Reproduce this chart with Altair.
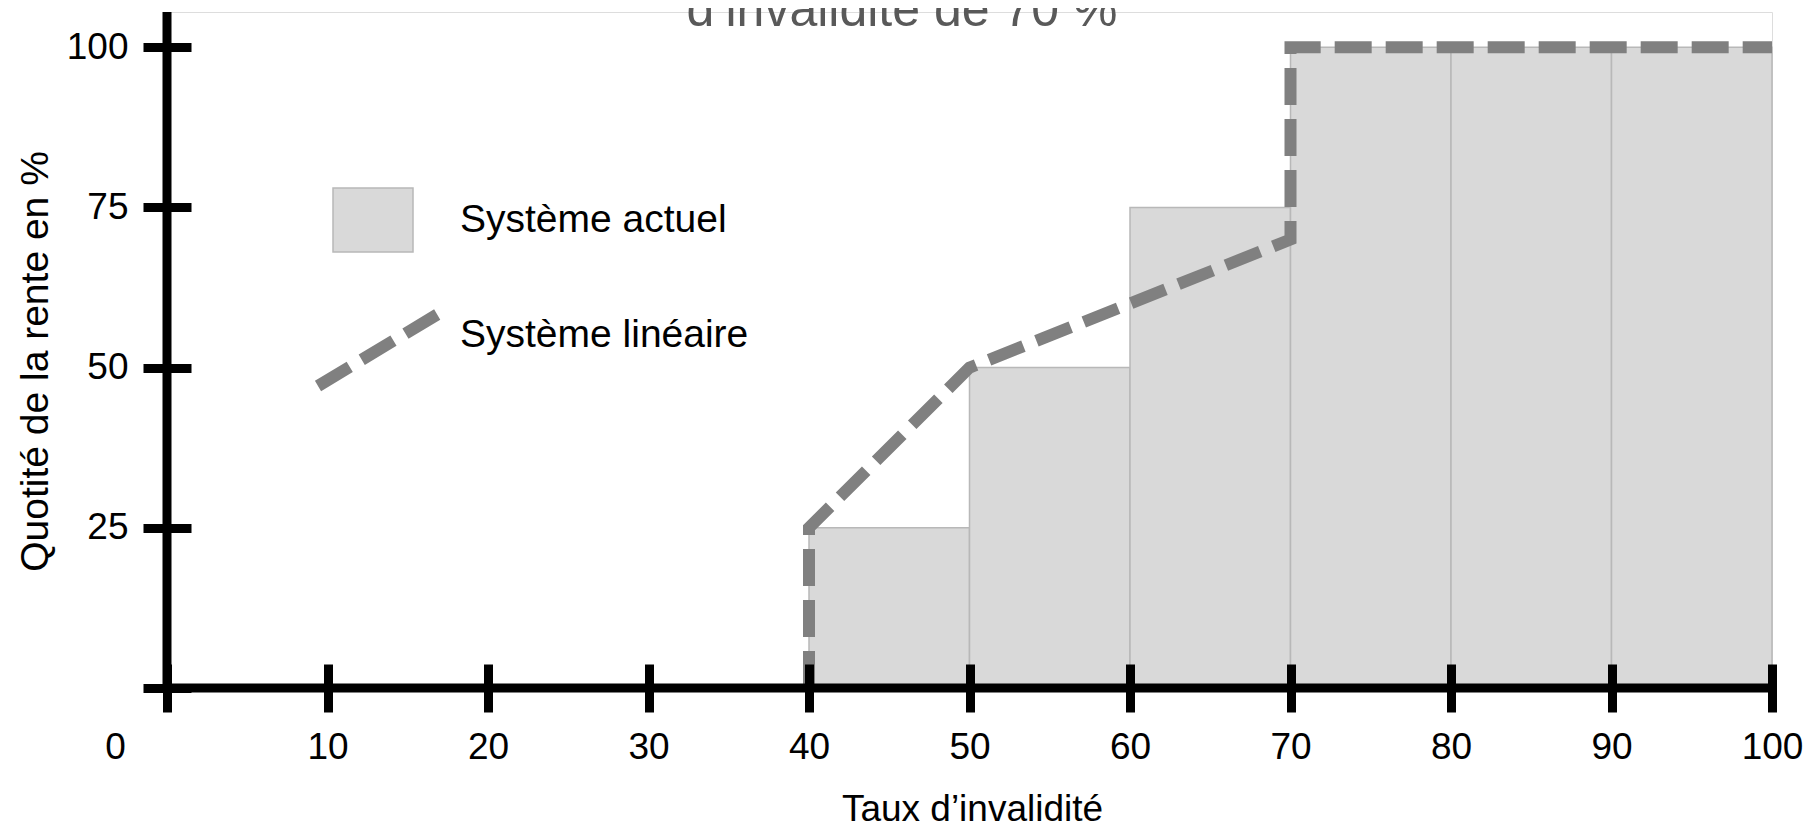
import altair as alt
import pandas as pd

# ---- data ----
bin_start = [40, 50, 60, 70, 80, 90]
bin_end = [50, 60, 70, 80, 90, 100]
quotite_actuelle = [25, 50, 75, 100, 100, 100]

lin_taux = [40, 40, 50, 70, 70, 100]
lin_quotite = [0, 25, 50, 70, 100, 100]

x_ticks = [0, 10, 20, 30, 40, 50, 60, 70, 80, 90, 100]
y_ticks = [0, 25, 50, 75, 100]

serie_actuel = "Système actuel"
serie_lineaire = "Système linéaire"
titre = "d’invalidité de 70 %"
titre_x = "Taux d’invalidité"
titre_y = "Quotité de la rente en %"

FONT = "Liberation Sans"

bars_df = pd.DataFrame({
    "debut": bin_start,
    "fin": bin_end,
    "quotite": quotite_actuelle,
    "serie": [serie_actuel] * len(bin_start),
})
line_df = pd.DataFrame({
    "ordre": list(range(len(lin_taux))),
    "taux": lin_taux,
    "quotite": lin_quotite,
    "serie": [serie_lineaire] * len(lin_taux),
})
origin_df = pd.DataFrame({"v": [0]})

x_scale = alt.Scale(domain=[0, 100], nice=False)
y_scale = alt.Scale(domain=[0, 105.5], nice=False)

x_axis = alt.Axis(
    values=x_ticks, title=titre_x, offset=-24, tickSize=48, tickWidth=9,
    tickColor="black", domain=False, grid=False,
    labelFont=FONT, labelFontSize=37, labelColor="black", labelPadding=17,
    labelFlush=False, labelOverlap=False,
    labelOffset={"condition": {"test": "datum.value == 0", "value": -52}, "value": 0},
    titleFont=FONT, titleFontSize=37, titleFontWeight="normal", titleColor="black",
    titleX=805, titleY=156, titleBaseline="alphabetic", titleAlign="center",
    zindex=2,
)
y_axis = alt.Axis(
    values=y_ticks, title=titre_y, offset=-24, tickSize=48, tickWidth=9,
    tickColor="black", domain=False, grid=False,
    labelExpr="datum.value == 0 ? '' : datum.label",
    labelFont=FONT, labelFontSize=37, labelColor="black", labelPadding=15,
    titleFont=FONT, titleFontSize=39, titleFontWeight="normal", titleColor="black",
    titleX=-144, titleY=349, titleAngle=270, titleBaseline="alphabetic",
    titleAlign="center", zindex=2,
)

bars = alt.Chart(bars_df).mark_rect(
    stroke="#b8b8b8", strokeWidth=1.5, opacity=1
).encode(
    x=alt.X("debut:Q", scale=x_scale, axis=x_axis),
    x2="fin:Q",
    y=alt.Y("quotite:Q", scale=y_scale, axis=y_axis),
    y2=alt.datum(0),
    fill=alt.Fill(
        "serie:N",
        scale=alt.Scale(domain=[serie_actuel], range=["#d9d9d9"]),
        legend=alt.Legend(
            title=None, orient="none", legendX=165, legendY=167, padding=0,
            symbolType="M-1,-0.8L1,-0.8L1,0.8L-1,0.8Z", symbolSize=6400,
            symbolStrokeColor="#b8b8b8", symbolStrokeWidth=1.5, symbolOpacity=1,
            labelFont=FONT, labelFontSize=39, labelColor="black", labelOffset=46,
            labelLimit=0,
        ),
    ),
)

line = alt.Chart(line_df).mark_line(
    stroke="#808080", strokeWidth=12, strokeCap="butt", strokeJoin="miter"
).encode(
    x=alt.X("taux:Q", scale=x_scale),
    y=alt.Y("quotite:Q", scale=y_scale),
    order=alt.Order("ordre:Q"),
    strokeDash=alt.StrokeDash(
        "serie:N",
        scale=alt.Scale(domain=[serie_lineaire], range=[[37, 14]]),
        legend=alt.Legend(
            title=None, orient="none", legendX=145, legendY=257, padding=0,
            symbolType="M-1,0.85L1,-0.35", symbolSize=14400,
            symbolStrokeColor="#808080", symbolStrokeWidth=12,
            labelFont=FONT, labelFontSize=39, labelColor="black", labelOffset=16,
            labelLimit=0,
        ),
    ),
)

y_line = alt.Chart(origin_df).mark_rule(color="black", strokeWidth=9).encode(
    x=alt.X("v:Q", scale=x_scale)
)
x_line = alt.Chart(origin_df).mark_rule(color="black", strokeWidth=9).encode(
    y=alt.Y("v:Q", scale=y_scale)
)

chart = alt.layer(bars, line, y_line, x_line).properties(
    width=1605,
    height=676,
    padding={"left": 159, "top": 4, "right": 32, "bottom": 136},
    autosize=alt.AutoSizeParams(type="none"),
    title=alt.TitleParams(
        text=titre, font=FONT, fontSize=50, fontWeight="normal", color="#595959",
        anchor="middle", frame="group", dx=-67.5, dy=68, offset=0,
        baseline="alphabetic",
    ),
).configure_view(stroke=None).configure(background="white")

chart.save("out.html", embed_options={"renderer": "svg", "actions": False})
